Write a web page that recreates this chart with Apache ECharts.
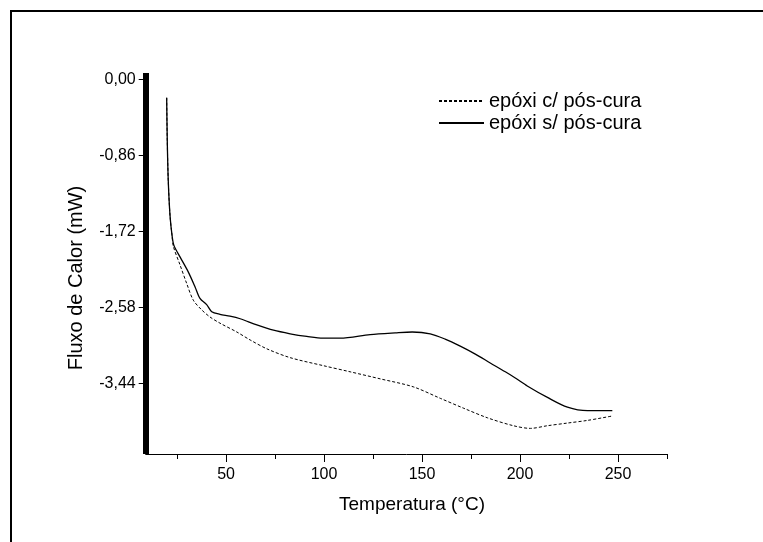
<!DOCTYPE html>
<html>
<head>
<meta charset="utf-8">
<script src="https://cdn.jsdelivr.net/npm/echarts@6/dist/echarts.min.js"></script>
<style>
  html, body { margin: 0; padding: 0; background: #fff; }
  #chart { width: 763px; height: 542px; }
</style>
</head>
<body>
<div id="chart"></div>
<script>
// DSC curves (temperature °C, heat flow mW)
const seriesNames = ['epóxi c/ pós-cura', 'epóxi s/ pós-cura']

const tempPos = [19.7, 20.0, 20.5, 21.4, 22.4, 23.1, 26.5, 29.9, 33.3, 37.6, 41.8, 46.9, 55.5, 62.3, 70.8, 82.7, 99.5, 113.3, 128.7, 145.5, 159.3, 171.0, 183.3, 196.6, 205.3, 214.0, 224.2, 234.4, 247.1]
const flowPos = [-0.21, -0.69, -1.14, -1.54, -1.76, -1.89, -2.10, -2.31, -2.50, -2.61, -2.69, -2.76, -2.86, -2.95, -3.05, -3.15, -3.24, -3.31, -3.39, -3.48, -3.61, -3.72, -3.83, -3.92, -3.95, -3.92, -3.89, -3.86, -3.81]

const tempPre = [19.7, 20.0, 20.5, 21.4, 22.4, 23.4, 26.5, 30.7, 34.2, 36.7, 40.1, 42.7, 46.9, 52.0, 57.2, 65.7, 74.2, 82.7, 91.2, 99.5, 108.2, 123.5, 136.3, 145.0, 154.2, 161.8, 169.5, 177.2, 184.8, 192.5, 197.6, 203.7, 214.0, 224.2, 234.4, 247.1]
const flowPre = [-0.21, -0.69, -1.14, -1.54, -1.76, -1.88, -2.01, -2.18, -2.35, -2.48, -2.55, -2.63, -2.66, -2.68, -2.71, -2.78, -2.84, -2.88, -2.91, -2.93, -2.93, -2.89, -2.87, -2.86, -2.88, -2.94, -3.02, -3.11, -3.21, -3.31, -3.38, -3.47, -3.60, -3.71, -3.75, -3.75]

const xMajor = [50, 100, 150, 200, 250]
const xMinor = [25, 75, 125, 175, 225, 275]
const yTicks = [0, -0.86, -1.72, -2.58, -3.44]

const pair = (xs, ys) => xs.map((x, i) => [x, ys[i]])

const chart = echarts.init(document.getElementById('chart'))

const xBase = {
  type: 'value',
  min: 9,
  max: 275,
  position: 'bottom',
  splitLine: { show: false }
}

chart.setOption({
  animation: false,
  textStyle: { fontFamily: 'Liberation Sans, Arial, sans-serif', color: '#000' },
  grid: { left: 145.7, right: 96, top: 73, bottom: 88 },
  legend: {
    data: seriesNames,
    orient: 'vertical',
    left: 433,
    top: 86,
    itemWidth: 45,
    itemHeight: 14,
    itemGap: 2,
    itemStyle: { opacity: 0 },
    textStyle: { fontSize: 20, color: '#000' }
  },
  xAxis: [
    {
      ...xBase,
      axisLine: { onZero: false, lineStyle: { color: '#000', width: 1 } },
      axisTick: { customValues: xMajor, length: 8, lineStyle: { color: '#000' } },
      axisLabel: {
        customValues: xMajor,
        margin: 13,
        fontSize: 16,
        color: '#000'
      }
    },
    {
      ...xBase,
      axisLine: { show: false, onZero: false },
      axisTick: { customValues: xMinor, length: 5, lineStyle: { color: '#000' } },
      axisLabel: { show: false }
    }
  ],
  yAxis: {
    type: 'value',
    min: -4.24,
    max: 0.07,
    splitLine: { show: false },
    axisLine: { show: true, onZero: false, lineStyle: { color: '#000', width: 6, cap: 'butt' } },
    axisTick: { customValues: yTicks, length: 7, lineStyle: { color: '#000', width: 1 } },
    axisLabel: {
      customValues: yTicks,
      margin: 10,
      fontSize: 16,
      color: '#000',
      formatter: (v) => v.toFixed(2).replace('.', ',')
    }
  },
  graphic: [
    {
      type: 'rect',
      shape: { x: 11, y: 11, width: 800, height: 600 },
      style: { fill: 'none', stroke: '#000', lineWidth: 2 },
      silent: true
    },
    {
      type: 'text',
      x: 412,
      y: 505,
      style: {
        text: 'Temperatura (°C)',
        font: '19px "Liberation Sans", Arial, sans-serif',
        fill: '#000',
        align: 'center',
        verticalAlign: 'middle'
      }
    },
    {
      type: 'text',
      x: 76,
      y: 278,
      rotation: Math.PI / 2,
      style: {
        text: 'Fluxo de Calor (mW)',
        font: '20px "Liberation Sans", Arial, sans-serif',
        fill: '#000',
        align: 'center',
        verticalAlign: 'middle'
      }
    }
  ],
  series: [
    {
      name: seriesNames[0],
      type: 'line',
      data: pair(tempPos, flowPos),
      symbol: 'none',
      smooth: 0.3,
      color: '#000',
      lineStyle: { color: '#000', width: 1, type: [3, 2] }
    },
    {
      name: seriesNames[1],
      type: 'line',
      data: pair(tempPre, flowPre),
      symbol: 'none',
      smooth: 0.3,
      color: '#000',
      lineStyle: { color: '#000', width: 1.3 }
    }
  ]
})
</script>
</body>
</html>
